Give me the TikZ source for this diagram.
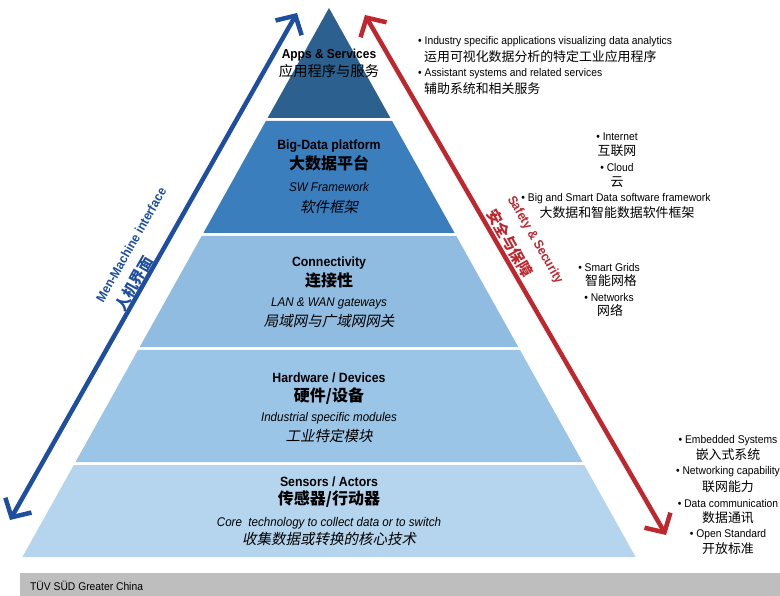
\documentclass[tikz,border=0pt]{standalone}
\usepackage{fontspec}
\setmainfont[FakeStretch=0.92]{Liberation Sans}
\newfontfamily\cjk{Noto Sans CJK SC}
\newfontfamily\cjkit[FakeSlant=0.2]{Noto Sans CJK SC}
\usetikzlibrary{arrows.meta}
\definecolor{lapps}{RGB}{44,96,142}
\definecolor{lbig}{RGB}{58,126,190}
\definecolor{lconn}{RGB}{143,188,224}
\definecolor{lhw}{RGB}{155,197,231}
\definecolor{lsens}{RGB}{180,213,237}
\definecolor{mmblue}{RGB}{30,78,160}
\definecolor{ssred}{RGB}{192,38,45}
\definecolor{footgray}{RGB}{190,190,190}
\begin{document}
\begin{tikzpicture}[x=1pt,y=-1pt,
  title/.style={inner sep=0,font=\fontsize{13.4}{15}\selectfont\bfseries},
  ctitle/.style={inner sep=0,font=\fontsize{16}{18}\selectfont\cjk\bfseries},
  sub/.style={inner sep=0,font=\fontsize{12.6}{14}\selectfont\itshape},
  csub/.style={inner sep=0,font=\fontsize{14.5}{16}\selectfont\cjkit},
  item/.style={inner sep=0,font=\fontsize{11.2}{13}\selectfont},
  citem/.style={inner sep=0,font=\fontsize{12.9}{15}\selectfont\cjk},
  bigarrow/.style={line width=4.5pt,{Straight Barb[length=14pt,width=30pt]}-{Straight Barb[length=14pt,width=30pt]}},
]
\useasboundingbox (0,0) rectangle (780,596);
% layers
\fill[lsens] (73.8,465) -- (584.2,465) -- (635.6,557) -- (22.4,557) -- cycle;
\fill[lhw] (138.0,350) -- (520.0,350) -- (582.5,462) -- (75.5,462) -- cycle;
\fill[lconn] (201.7,236) -- (456.3,236) -- (518.3,347) -- (139.7,347) -- cycle;
\fill[lbig] (265.9,121) -- (392.1,121) -- (454.6,233) -- (203.4,233) -- cycle;
\fill[lapps] (329,8) -- (390.4,118) -- (267.6,118) -- cycle;
% layer texts
\node[title,font=\fontsize{13}{15}\selectfont\bfseries] (t1) at (329,55) {Apps \& Services};
\node[inner sep=0,font=\fontsize{14.3}{16}\selectfont\cjk] (c1) at (329,71) {应用程序与服务};
\node[title] (t2) at (329,146) {Big-Data platform};
\node[ctitle] (c2) at (329,163) {大数据平台};
\node[sub] (s2) at (329,187) {SW Framework};
\node[csub] (d2) at (329,207) {软件框架};
\node[title] (t3) at (329,263) {Connectivity};
\node[ctitle] (c3) at (329,281) {连接性};
\node[sub] (s3) at (329,303) {LAN \& WAN gateways};
\node[csub] (d3) at (329,321) {局域网与广域网网关};
\node[title] (t4) at (329,378) {Hardware / Devices};
\node[ctitle] (c4) at (329,396) {硬件/设备};
\node[sub] (s4) at (329,418) {Industrial specific modules};
\node[csub] (d4) at (329,436) {工业特定模块};
\node[title] (t5) at (329,482) {Sensors / Actors};
\node[ctitle] (c5) at (329,499) {传感器/行动器};
\node[sub] (s5) at (329,523) {Core\ \ technology to collect data or to switch};
\node[csub] (d5) at (329,539) {收集数据或转换的核心技术};
% arrows
\coordinate (mmA) at (10,520);
\coordinate (mmB) at (297,13);
\draw[bigarrow,mmblue] (mmA) -- (mmB);
\coordinate (ssA) at (365,15);
\coordinate (ssB) at (666,535);
\draw[bigarrow,ssred] (ssA) -- (ssB);
\node[inner sep=0,rotate=60.5,text=mmblue,font=\fontsize{13}{15}\selectfont\bfseries] (mml) at (131,245) {Men-Machine interface};
\node[inner sep=0,rotate=60.5,text=mmblue,font=\fontsize{15}{17}\selectfont\cjk\bfseries] (mmc) at (134,284) {人机界面};
\node[inner sep=0,rotate=-60,text=ssred,font=\fontsize{13}{15}\selectfont\bfseries] (ssl) at (535,240) {Safety \& Security};
\node[inner sep=0,rotate=-60,text=ssred,font=\fontsize{15}{17}\selectfont\cjk\bfseries] (ssc) at (510,243) {安全与保障};
% top-right list
\node[item,anchor=west] (a1) at (418,42) {• Industry specific applications visualizing data analytics};
\node[citem,anchor=west] (a1c) at (424,57) {运用可视化数据分析的特定工业应用程序};
\node[item,anchor=west] (a2) at (418,74) {• Assistant systems and related services};
\node[citem,anchor=west] (a2c) at (424,89) {辅助系统和相关服务};
% big data list
\node[item] (b1) at (617,137) {• Internet};
\node[citem] (b1c) at (617,151) {互联网};
\node[item] (b2) at (617,167) {• Cloud};
\node[citem] (b2c) at (617,182) {云};
\node[item] (b3) at (616,199) {• Big and Smart Data software framework};
\node[citem] (b3c) at (617,213) {大数据和智能数据软件框架};
% connectivity list
\node[item] (n1) at (609,267) {• Smart Grids};
\node[citem] (n1c) at (611,281) {智能网格};
\node[item] (n2) at (609,297) {• Networks};
\node[citem] (n2c) at (610,311) {网络};
% sensors list
\node[item] (e1) at (728,441) {• Embedded Systems};
\node[citem] (e1c) at (728,455) {嵌入式系统};
\node[item] (e2) at (728,472) {• Networking capability};
\node[citem] (e2c) at (728,487) {联网能力};
\node[item] (e3) at (728,503) {• Data communication};
\node[citem] (e3c) at (728,518) {数据通讯};
\node[item] (e4) at (728,535) {• Open Standard};
\node[citem] (e4c) at (728,549) {开放标准};
% footer
\fill[footgray] (20,573) rectangle (780,596);
\node[item,anchor=west] (foot) at (30,586) {TÜV SÜD Greater China};
\end{tikzpicture}
\end{document}
